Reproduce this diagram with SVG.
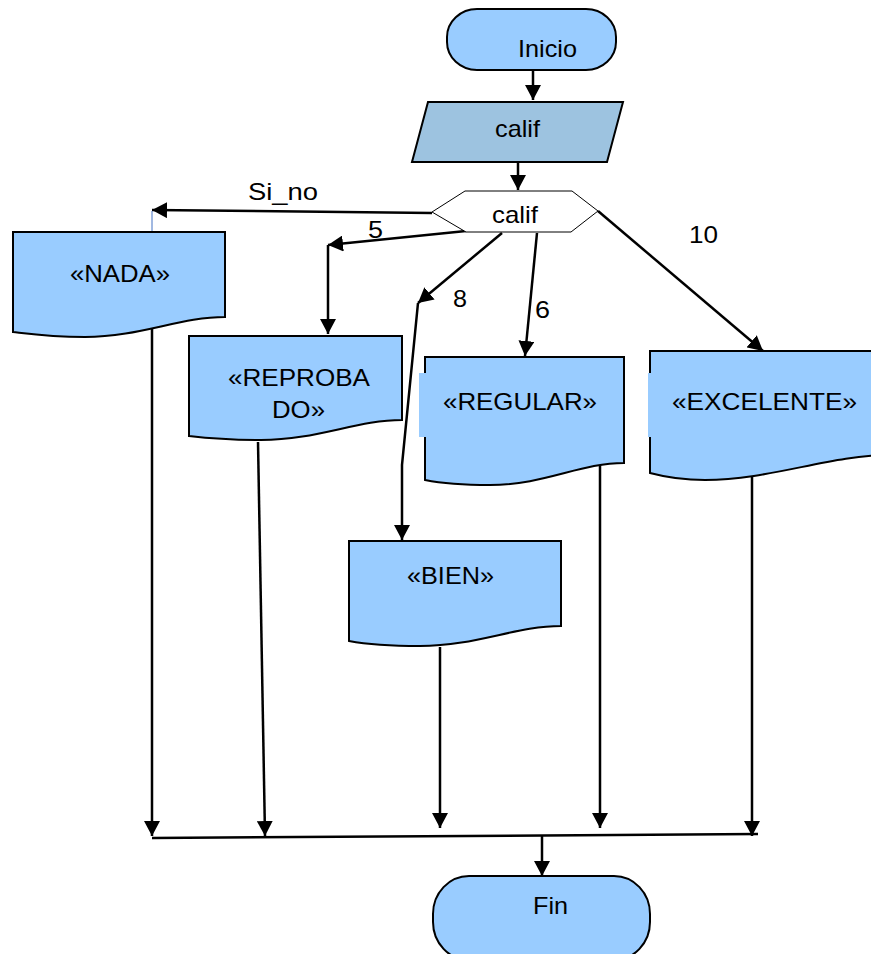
<svg xmlns="http://www.w3.org/2000/svg" width="871" height="954" viewBox="0 0 871 954">
  <defs>
    <marker id="arrow" markerUnits="userSpaceOnUse" markerWidth="15" markerHeight="16" refX="15" refY="8" orient="auto">
      <path d="M0,0 L15,8 L0,16 Z" fill="#000"/>
    </marker>
    <style>
      .term { fill: #99ccff; stroke: #000; stroke-width: 2; }
      .doc { fill: #99ccff; stroke: #000; stroke-width: 2; }
      .io { fill: #9dc3e0; stroke: #000; stroke-width: 2; }
      .dec { fill: #fff; stroke: #000; stroke-width: 1; }
      .patch { fill: #99ccff; stroke: none; }
      .lbl { font-family: "Liberation Sans", Arial, sans-serif; font-size: 24px; fill: #000; }
      .mid { text-anchor: middle; }
      .edge { fill: none; stroke: #000; stroke-width: 2.5; }
      .arr { marker-end: url(#arrow); }
      .thin { fill: none; stroke: #4472c4; stroke-width: 1; }
    </style>
  </defs>

  <rect width="871" height="954" fill="#fff"/>

  <!-- connectors -->
  <g id="connectors">
    <line class="edge arr" x1="533" y1="70" x2="533" y2="100"/>
    <line class="edge arr" x1="518" y1="162" x2="518" y2="190"/>
    <!-- Si_no branch -->
    <line class="edge arr" x1="432" y1="213" x2="152" y2="210"/>
    <line class="thin" x1="152" y1="211" x2="152" y2="232"/>
    <!-- 5 branch -->
    <line class="edge arr" x1="466" y1="231" x2="328" y2="245"/>
    <line class="edge arr" x1="328" y1="245" x2="328" y2="334"/>
    <!-- 8 branch -->
    <line class="edge arr" x1="502" y1="233" x2="418" y2="303"/>
    <polyline class="edge arr" points="418,303 402,465 402,540"/>
    <!-- 6 branch -->
    <line class="edge arr" x1="537" y1="233" x2="525" y2="356"/>
    <!-- 10 branch -->
    <line class="edge arr" x1="598" y1="211" x2="763" y2="351"/>
    <!-- outputs down to the collector line -->
    <line class="edge arr" x1="152" y1="325" x2="152" y2="836"/>
    <line class="edge arr" x1="258" y1="442" x2="265" y2="836"/>
    <line class="edge arr" x1="440" y1="647" x2="440" y2="828"/>
    <line class="edge arr" x1="600" y1="463" x2="600" y2="828"/>
    <line class="edge arr" x1="752" y1="473" x2="752" y2="836"/>
    <line class="edge" x1="152" y1="838" x2="758" y2="834" stroke-width="2"/>
    <line class="edge arr" x1="542" y1="836" x2="542" y2="876"/>

    <text class="lbl" x="248" y="200" textLength="70" lengthAdjust="spacingAndGlyphs">Si_no</text>
    <text class="lbl" x="368" y="238" textLength="15" lengthAdjust="spacingAndGlyphs">5</text>
    <text class="lbl" x="453" y="307" textLength="14" lengthAdjust="spacingAndGlyphs">8</text>
    <text class="lbl" x="535" y="318" textLength="15" lengthAdjust="spacingAndGlyphs">6</text>
    <text class="lbl" x="689" y="243" textLength="29" lengthAdjust="spacingAndGlyphs">10</text>
  </g>

  <g id="inicio">
    <rect class="term" x="447" y="9" width="169" height="61" rx="30" ry="28"/>
    <text class="lbl mid" x="547.5" y="57" textLength="59" lengthAdjust="spacingAndGlyphs">Inicio</text>
  </g>

  <g id="leer-calif">
    <polygon class="io" points="428,102 623,102 607,162 412,162"/>
    <text class="lbl mid" x="517.5" y="137" textLength="45" lengthAdjust="spacingAndGlyphs">calif</text>
  </g>

  <g id="segun-calif">
    <polygon class="dec" points="432,212 465,191 572,191 598,211 571,232 466,232"/>
    <text class="lbl mid" x="515" y="223" textLength="46" lengthAdjust="spacingAndGlyphs">calif</text>
  </g>

  <g id="nada">
    <path class="doc" d="M13,232 H225 V317 C180,317 140,337 85,337 C50,337 30,334 13,332 Z"/>
    <text class="lbl mid" x="120" y="282" textLength="100" lengthAdjust="spacingAndGlyphs">«NADA»</text>
  </g>

  <g id="reprobado">
    <path class="doc" d="M189,336 H402 V420 C357,420 317,440 261,440 C226,440 206,438 189,436 Z"/>
    <text class="lbl mid" x="299" y="386" textLength="142" lengthAdjust="spacingAndGlyphs">«REPROBA</text>
    <text class="lbl mid" x="298.5" y="418" textLength="53" lengthAdjust="spacingAndGlyphs">DO»</text>
  </g>

  <g id="regular">
    <path class="doc" d="M425,357 H624 V463 C580,463 545,485 490,485 C460,485 440,483 425,480 Z"/>
    <rect class="patch" x="419" y="373" width="10" height="64"/>
    <text class="lbl mid" x="520" y="410" textLength="154" lengthAdjust="spacingAndGlyphs">«REGULAR»</text>
  </g>

  <g id="excelente">
    <path class="doc" d="M650,351 H890 V455 C830,455 770,480 705,480 C680,480 665,477 650,473 Z"/>
    <rect class="patch" x="648" y="373" width="6" height="64"/>
    <text class="lbl mid" x="764.5" y="410" textLength="185" lengthAdjust="spacingAndGlyphs">«EXCELENTE»</text>
  </g>

  <g id="bien">
    <path class="doc" d="M349,541 H561 V626 C516,626 476,646 420,646 C385,646 365,644 349,641 Z"/>
    <text class="lbl mid" x="450.5" y="584" textLength="87" lengthAdjust="spacingAndGlyphs">«BIEN»</text>
  </g>

  <g id="fin">
    <rect class="term" x="433" y="876" width="217" height="84" rx="36" ry="38"/>
    <text class="lbl mid" x="550.5" y="914" textLength="35" lengthAdjust="spacingAndGlyphs">Fin</text>
  </g>
</svg>
